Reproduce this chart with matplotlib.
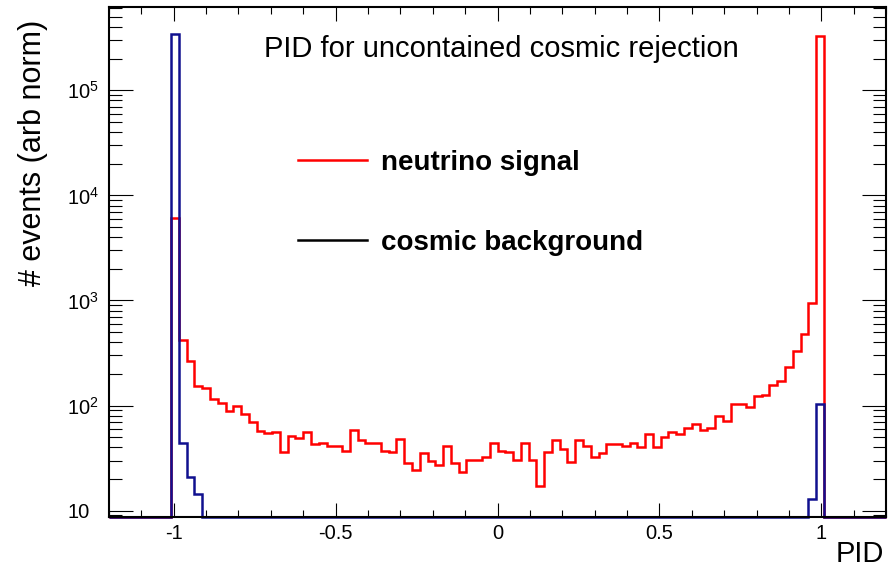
import numpy as np
import matplotlib
matplotlib.use("Agg")
import matplotlib.pyplot as plt
from matplotlib.lines import Line2D
from matplotlib.ticker import FixedLocator, MultipleLocator, NullFormatter, LogLocator

plt.rcParams['font.family'] = ['Liberation Sans', 'DejaVu Sans']
plt.rcParams['mathtext.fontset'] = 'custom'
plt.rcParams['mathtext.rm'] = 'Liberation Sans'
plt.rcParams['mathtext.it'] = 'Liberation Sans:italic'
plt.rcParams['mathtext.bf'] = 'Liberation Sans:bold'

# ---- data -----------------------------------------------------------
n_bins = 100
x_low, x_high = -1.2, 1.2

# neutrino signal (red), bins 0..99
signal = [0]*8 + [
    6100, 416, 268, 155, 148, 116, 105, 88, 99, 83,
    69.5, 57.8, 54.6, 55.8, 36, 51.4, 48.9, 55.8, 43.1, 44.5,
    41.6, 41.6, 37.3, 58.7, 46.5, 44.5, 44.5, 37.3, 36.5, 47.9,
    28.7, 24.4, 35.2, 29.9, 27.2, 41.6, 28.2, 23.5, 30.4, 30.4,
    32.2, 43.8, 37.3, 36.5, 30.4, 43.8, 30.4, 17.2, 36.5, 47.1,
    38.5, 29.3, 46.5, 41.6, 32.7, 35.7, 43.1, 43.1, 41.3, 44.5,
    40.7, 53.7, 40.2, 50.7, 55.8, 53.7, 61, 67, 58.7, 61,
    80, 72, 104, 104, 96, 122, 126, 157, 172, 235,
    334, 479, 944, 327000] + [0]*8

# cosmic background (blue), bins 0..99
background = [0]*8 + [344000, 44.5, 20.8, 14.4] + [0]*78 + [12.9, 104] + [0]*8

y_min, y_max = 8.7, 6.2e5
x_ticks = [-1, -0.5, 0, 0.5, 1]
x_ticklabels = ['-1', '-0.5', '0', '0.5', '1']
y_ticks = [10, 1e2, 1e3, 1e4, 1e5]
y_ticklabels = ['10', r'$10^{2}$', r'$10^{3}$', r'$10^{4}$', r'$10^{5}$']

title = 'PID for uncontained cosmic rejection'
xlabel = 'PID'
ylabel = '# events (arb norm)'
legend_labels = ['neutrino signal', 'cosmic background']

# ---- figure ---------------------------------------------------------
fig = plt.figure(figsize=(8.88, 5.73), dpi=100)
ax = fig.add_axes([109/888, 1-517/573, 777/888, 510/573])
ax.set_yscale('log')

edges = np.linspace(x_low, x_high, n_bins + 1)
sig = np.maximum(np.asarray(signal, float), y_min)
bkg = np.maximum(np.asarray(background, float), y_min)

ax.stairs(sig, edges, color='#ff0000', lw=1.8, baseline=None, clip_on=False)
ax.stairs(bkg, edges, color='#10108f', lw=1.8, baseline=None, clip_on=False)

ax.set_xlim(x_low, x_high)
ax.set_ylim(y_min, y_max)

for s in ax.spines.values():
    s.set_linewidth(1.5)

ax.xaxis.set_major_locator(FixedLocator(x_ticks))
ax.set_xticklabels(x_ticklabels)
ax.xaxis.set_minor_locator(MultipleLocator(0.1))
ax.yaxis.set_major_locator(FixedLocator(y_ticks))
ax.set_yticklabels(y_ticklabels)
ax.yaxis.set_minor_locator(LogLocator(base=10, subs=np.arange(2, 10)))
ax.yaxis.set_minor_formatter(NullFormatter())

ax.tick_params(axis='x', which='major', direction='in', length=10, width=0.8,
               top=True, bottom=True, labelsize=14.5, pad=5)
ax.tick_params(axis='x', which='minor', direction='in', length=5, width=0.8,
               top=True, bottom=True)
ax.tick_params(axis='y', which='major', direction='in', length=17.5, width=0.8,
               left=True, right=True, labelsize=14.5, pad=30)
ax.tick_params(axis='y', which='minor', direction='in', length=9.5, width=0.8,
               left=True, right=True)
plt.setp(ax.get_yticklabels(), ha='left')

ax.set_ylabel(ylabel, fontsize=22, loc='top')
ax.yaxis.set_label_coords(-0.0785, 0.975)
ax.set_xlabel(xlabel, fontsize=21, loc='right')
ax.xaxis.set_label_coords(0.9975, -0.045)

ax.text(0.200, 0.9025, title, transform=ax.transAxes, fontsize=21,
        ha='left', va='baseline')

handles = [Line2D([], [], color='#ff0000', lw=1.8),
           Line2D([], [], color='black', lw=1.8)]
leg = ax.legend(handles, legend_labels, loc='upper left',
                bbox_to_anchor=(0.2432, 0.7195), frameon=False,
                prop={'size': 20, 'weight': 'bold'},
                handlelength=2.5, handletextpad=0.5, labelspacing=1.93,
                borderpad=0, borderaxespad=0)

fig.savefig('out.png', dpi=100)
